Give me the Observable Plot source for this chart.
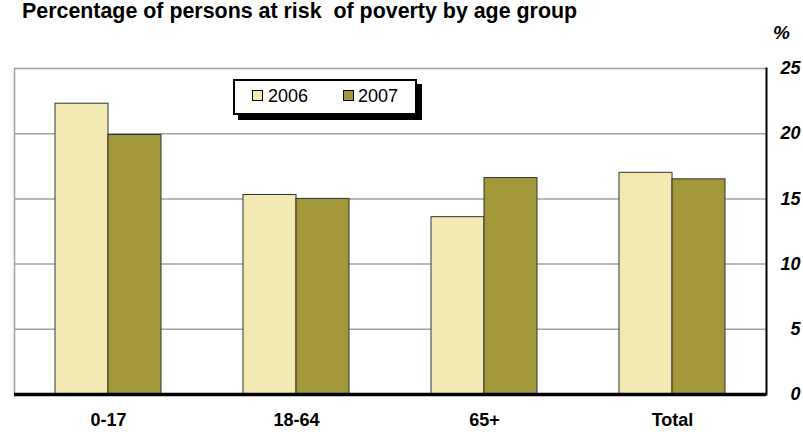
<!DOCTYPE html>
<html>
<head>
<meta charset="utf-8">
<script src="https://cdn.jsdelivr.net/npm/d3@7"></script>
<script src="https://cdn.jsdelivr.net/npm/@observablehq/plot@0.6"></script>
<style>
  html, body { margin: 0; padding: 0; background: #fff; }
  #wrap { position: relative; width: 803px; height: 432px; overflow: hidden; font-family: "Liberation Sans", Arial, sans-serif; }
  #title { position: absolute; left: 22px; top: -1px; font-size: 21.4px; font-weight: bold; white-space: pre; line-height: 24px; color: #000; }
  #unit { position: absolute; left: 773px; top: 22px; font-size: 19px; font-weight: bold; font-style: italic; line-height: 22px; }
  #legend { position: absolute; left: 233px; top: 79px; width: 180px; height: 32px; border: 2px solid #000; background: #fff; box-shadow: 5px 5px 0 #000; }
  .sw { position: absolute; width: 9px; height: 9px; border: 1px solid #000; top: 9px; }
  .lt { position: absolute; font-size: 18px; line-height: 20px; top: 5px; }
  #chart { position: absolute; left: 0; top: 0; }
</style>
</head>
<body>
<div id="wrap">
  <div id="chart"></div>
  <div id="title"></div>
  <div id="unit"></div>
  <div id="legend"></div>
</div>
<script>
const title = "Percentage of persons at risk  of poverty by age group";
const unitLabel = "%";
const groups = ["0-17", "18-64", "65+", "Total"];
const years = ["2006", "2007"];
const values2006 = [22.3, 15.3, 13.6, 17.0];
const values2007 = [19.9, 15.0, 16.6, 16.5];
const yTicks = [0, 5, 10, 15, 20, 25];
const colors = ["#F2EAB2", "#A29739"];

const data = [];
groups.forEach((g, i) => {
  data.push({group: g, year: years[0], value: values2006[i]});
  data.push({group: g, year: years[1], value: values2007[i]});
});

document.getElementById("title").textContent = title;
document.getElementById("unit").textContent = unitLabel;

const legend = document.getElementById("legend");
const legendPos = [[17, 33], [108, 123]];
years.forEach((y, i) => {
  const sw = document.createElement("div");
  sw.className = "sw";
  sw.style.left = legendPos[i][0] + "px";
  sw.style.background = colors[i];
  legend.appendChild(sw);
  const t = document.createElement("div");
  t.className = "lt";
  t.style.left = legendPos[i][1] + "px";
  t.textContent = y;
  legend.appendChild(t);
});

const chart = Plot.plot({
  width: 803,
  height: 432,
  marginTop: 68,
  marginBottom: 38,
  marginLeft: 12,
  marginRight: 36,
  style: {fontFamily: "'Liberation Sans', Arial, sans-serif", background: "transparent"},
  fx: {domain: groups, padding: 0},
  x: {domain: years, paddingInner: 0, paddingOuter: 0.748, axis: null},
  y: {domain: [0, 25]},
  color: {domain: years, range: colors},
  marks: [
    Plot.ruleY(yTicks.filter(d => d > 0), {stroke: "#a0a0a0", strokeWidth: 1.5}),
    Plot.frame({anchor: "left", stroke: "#a0a0a0", strokeWidth: 1.5, facetAnchor: "left"}),
    Plot.barY(data, {fx: "group", x: "year", y: "value", fill: "year", stroke: "#333", strokeWidth: 1}),
    Plot.ruleY([0], {stroke: "#000", strokeWidth: 3.5}),
    Plot.frame({anchor: "right", stroke: "#000", strokeWidth: 2, facetAnchor: "right"}),
    Plot.axisY(yTicks, {anchor: "right", tickSize: 0, tickPadding: 34, textAnchor: "end", fontSize: 18, fontWeight: "bold", fontStyle: "italic", label: null, fill: "#000"}),
    Plot.axisFx({anchor: "bottom", tickSize: 0, tickPadding: 19, fontSize: 18, fontWeight: "bold", label: null, fill: "#000"})
  ]
});
document.getElementById("chart").appendChild(chart);
</script>
</body>
</html>
